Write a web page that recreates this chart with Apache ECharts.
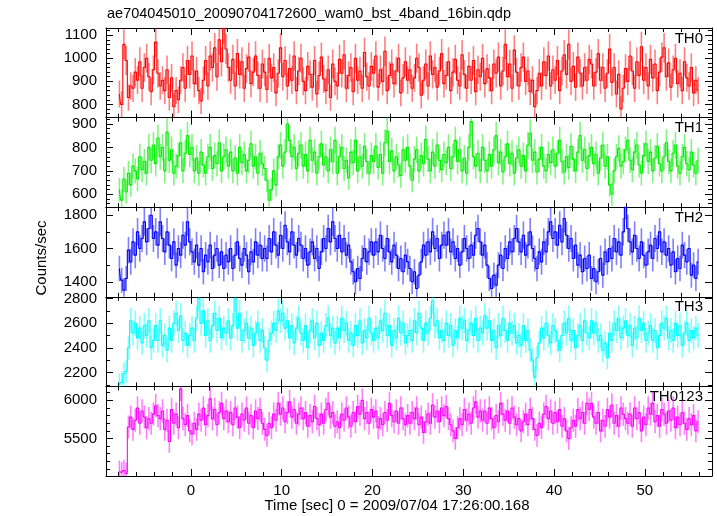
<!DOCTYPE html>
<html>
<head>
<meta charset="utf-8">
<script src="https://cdn.jsdelivr.net/npm/echarts@6/dist/echarts.min.js"></script>
<style>
html,body{margin:0;padding:0;background:#fff;}
#chart{width:717px;height:516px;}
</style>
</head>
<body>
<div id="chart"></div>
<script>
// ---- data (0.25 s bins, first bin centred at -7.875 s) ----
const binStart = -7.875;
const binWidth = 0.25;
const panelNames = ["TH0", "TH1", "TH2", "TH3", "TH0123"];
const xTickLabels = [0, 10, 20, 30, 40, 50];

const th0 = [
  845, 800, 1060, 990, 830, 880, 870, 940, 905, 985, 870, 960, 1000, 920, 855, 950,
  1070, 935, 880, 905, 860, 950, 830, 915, 790, 860, 820, 905, 960, 870, 990, 930,
  1010, 890, 945, 860, 815, 905, 990, 880, 1010, 960, 1045, 920, 1080, 985, 1130, 1040,
  960, 905, 995, 880, 1020, 930, 985, 870, 955, 1005, 890, 940, 1010, 925, 870, 975,
  940, 865, 1000, 915, 960, 850, 935, 1045, 920, 990, 880, 955, 905, 1010, 860, 945,
  1000, 900, 860, 965, 930, 875, 990, 845, 925, 1005, 910, 860, 950, 830, 975, 900,
  880, 995, 935, 1015, 870, 925, 960, 855, 1000, 905, 945, 870, 1025, 920, 880, 965,
  935, 1010, 875, 950, 900, 1030, 860, 925, 975, 890, 945, 1000, 850, 915, 985, 905,
  950, 870, 915, 1000, 960, 840, 905, 975, 880, 1010, 930, 960, 875, 945, 1020, 890,
  925, 985, 860, 940, 995, 905, 880, 1015, 930, 870, 965, 905, 990, 855, 950, 920,
  1000, 890, 955, 915, 860, 975, 935, 1005, 880, 945, 1060, 920, 975, 870, 1035, 940,
  880, 960, 1005, 900, 945, 855, 905, 790, 860, 935, 880, 985, 925, 1010, 880, 950,
  905, 990, 860, 945, 1015, 930, 1060, 900, 965, 875, 1005, 935, 880, 960, 905, 995,
  975, 880, 940, 1020, 905, 960, 870, 935, 1040, 895, 960, 845, 930, 780, 870, 955,
  900, 1010, 945, 870, 985, 925, 1050, 905, 960, 880, 995, 915, 975, 860, 940, 1005,
  1045, 920, 980, 875, 950, 1000, 890, 935, 860, 985, 915, 880, 960, 850, 905, 860
];
const th1 = [
  620, 575, 665, 610, 690, 640, 720, 700, 665, 760, 705, 740, 690, 800, 745, 810,
  730, 840, 760, 800, 700, 865, 745, 790, 690, 720, 765, 820, 700, 775, 850, 770,
  800, 700, 755, 690, 780, 725, 690, 760, 800, 710, 765, 730, 820, 700, 760, 790,
  720, 780, 700, 755, 690, 800, 735, 770, 700, 745, 815, 720, 760, 690, 775, 730,
  710, 660, 575, 620, 700, 640, 760, 810, 720, 780, 900, 830, 760, 800, 710, 775,
  810, 720, 770, 700, 830, 745, 780, 690, 760, 815, 725, 760, 700, 790, 740, 830,
  690, 760, 800, 710, 745, 670, 780, 735, 830, 700, 760, 720, 805, 740, 690, 765,
  740, 805, 715, 770, 690, 820, 870, 740, 785, 700, 760, 725, 680, 790, 745, 800,
  720, 660, 750, 790, 700, 765, 730, 835, 750, 700, 780, 720, 810, 745, 705, 770,
  735, 800, 710, 760, 830, 740, 790, 700, 755, 690, 800, 910, 760, 720, 775, 700,
  800, 745, 700, 770, 720, 790, 850, 735, 780, 695, 760, 815, 730, 775, 690, 755,
  790, 720, 765, 700, 810, 860, 745, 780, 695, 750, 800, 720, 700, 770, 735, 790,
  720, 775, 830, 740, 695, 760, 715, 805, 750, 700, 780, 850, 745, 790, 710, 765,
  800, 730, 770, 690, 755, 810, 720, 760, 640, 600, 700, 760, 795, 720, 740, 790,
  830, 745, 705, 780, 810, 725, 690, 765, 815, 740, 780, 700, 755, 805, 730, 700,
  760, 820, 740, 700, 775, 810, 720, 690, 760, 800, 730, 705, 780, 725, 690, 745
];
const th2 = [
  1480, 1410, 1350, 1420, 1590, 1520, 1640, 1560, 1700, 1600, 1660, 1760, 1640, 1720, 1800, 1660,
  1700, 1620, 1760, 1660, 1580, 1700, 1620, 1540, 1640, 1500, 1600, 1560, 1680, 1620, 1760, 1640,
  1580, 1520, 1620, 1500, 1600, 1460, 1560, 1520, 1620, 1480, 1560, 1600, 1500, 1580, 1480, 1560,
  1520, 1600, 1480, 1560, 1640, 1540, 1500, 1600, 1560, 1460, 1580, 1520, 1640, 1560, 1620, 1540,
  1600, 1540, 1660, 1580, 1700, 1620, 1560, 1680, 1600, 1740, 1640, 1580, 1700, 1620, 1560, 1660,
  1620, 1540, 1600, 1500, 1580, 1640, 1540, 1600, 1480, 1580, 1660, 1600, 1720, 1640, 1760, 1660,
  1600, 1680, 1580, 1660, 1560, 1620, 1520, 1460, 1400, 1480, 1420, 1540, 1600, 1520, 1580, 1640,
  1560, 1640, 1580, 1680, 1600, 1540, 1660, 1580, 1520, 1620, 1560, 1480, 1540, 1460, 1560, 1520,
  1480, 1400, 1460, 1360, 1440, 1520, 1620, 1560, 1640, 1580, 1700, 1600, 1660, 1540, 1620, 1680,
  1620, 1700, 1580, 1640, 1540, 1600, 1500, 1580, 1660, 1600, 1540, 1620, 1560, 1680, 1720, 1640,
  1560, 1620, 1500, 1420, 1360, 1440, 1380, 1500, 1560, 1480, 1600, 1540, 1640, 1580, 1660, 1720,
  1640, 1580, 1680, 1560, 1620, 1700, 1600, 1540, 1480, 1580, 1520, 1640, 1580, 1700, 1760, 1660,
  1700, 1620, 1740, 1640, 1780, 1680, 1600, 1660, 1540, 1620, 1500, 1560, 1460, 1540, 1480, 1560,
  1420, 1480, 1400, 1460, 1540, 1440, 1580, 1520, 1600, 1540, 1660, 1580, 1640, 1560, 1700, 1860,
  1720, 1640, 1580, 1680, 1600, 1540, 1640, 1560, 1500, 1580, 1620, 1540, 1660, 1600, 1700, 1580,
  1640, 1560, 1600, 1500, 1580, 1460, 1540, 1480, 1620, 1560, 1520, 1600, 1440, 1500, 1420, 1520
];
const th3 = [
  2100, 2120, 2190, 2210, 2400, 2620, 2520, 2600, 2480, 2560, 2440, 2580, 2500, 2620, 2400, 2460,
  2580, 2460, 2620, 2420, 2500, 2380, 2560, 2460, 2600, 2680, 2540, 2660, 2460, 2520, 2420, 2500,
  2560, 2460, 2640, 2800, 2600, 2700, 2500, 2620, 2460, 2580, 2680, 2540, 2640, 2480, 2560, 2520,
  2620, 2480, 2580, 2800, 2560, 2680, 2460, 2540, 2600, 2480, 2560, 2420, 2520, 2600, 2460, 2540,
  2400, 2300, 2460, 2520, 2600, 2540, 2700, 2620, 2680, 2560, 2620, 2480, 2580, 2440, 2560, 2640,
  2520, 2460, 2580, 2400, 2540, 2620, 2480, 2600, 2420, 2520, 2460, 2580, 2640, 2500, 2560, 2440,
  2560, 2480, 2640, 2540, 2600, 2460, 2520, 2420, 2580, 2500, 2620, 2440, 2540, 2480, 2640, 2520,
  2460, 2560, 2480, 2620, 2540, 2680, 2500, 2580, 2420, 2540, 2480, 2640, 2520, 2600, 2440, 2500,
  2540, 2460, 2620, 2520, 2680, 2560, 2460, 2600, 2520, 2640, 2780, 2580, 2620, 2480, 2540, 2460,
  2600, 2500, 2580, 2420, 2540, 2480, 2640, 2560, 2620, 2460, 2540, 2600, 2500, 2640, 2460, 2560,
  2520, 2660, 2560, 2620, 2460, 2540, 2400, 2580, 2500, 2640, 2540, 2460, 2600, 2520, 2580, 2440,
  2500, 2420, 2580, 2460, 2540, 2380, 2300, 2160, 2320, 2440, 2560, 2480, 2600, 2500, 2440, 2580,
  2540, 2460, 2380, 2500, 2600, 2520, 2640, 2460, 2540, 2400, 2500, 2580, 2460, 2620, 2520, 2480,
  2620, 2520, 2600, 2460, 2500, 2380, 2440, 2320, 2520, 2460, 2600, 2540, 2640, 2480, 2560, 2620,
  2500, 2580, 2420, 2560, 2480, 2640, 2540, 2600, 2460, 2520, 2580, 2460, 2540, 2400, 2500, 2600,
  2560, 2640, 2480, 2540, 2460, 2600, 2500, 2580, 2420, 2520, 2600, 2460, 2540, 2480, 2560, 2500
];
const th0123 = [
  5070, 5050, 5080, 5040, 5650, 5780, 5620, 5740, 5900, 5700, 5860, 5780, 5640, 5760, 5700, 5820,
  5930, 5800, 5760, 5860, 5620, 5740, 5460, 5880, 5700, 5820, 5640, 6150, 5760, 5680, 5800, 5600,
  5560, 5700, 5620, 5820, 5740, 5900, 5680, 5800, 6020, 5760, 5880, 5680, 5840, 5960, 5760, 5860,
  5720, 5840, 5680, 5900, 5780, 5640, 5820, 5740, 5900, 5700, 5800, 5640, 5860, 5760, 5880, 5700,
  5620, 5540, 5700, 5640, 5820, 5740, 5960, 5820, 5900, 5720, 5840, 5980, 5780, 5880, 5700, 5820,
  5900, 5760, 5840, 5660, 5800, 5720, 5920, 5760, 5680, 5820, 5700, 5880, 5960, 5780, 5840, 5660,
  5720, 5640, 5820, 5740, 5900, 5780, 5660, 5840, 5720, 5920, 5820, 6000, 5760, 5840, 5700, 5880,
  5780, 5860, 5640, 5760, 5680, 5840, 5740, 5960, 5800, 5720, 5860, 5700, 5900, 5760, 5680, 5800,
  5700, 5840, 5760, 5900, 5680, 5780, 5580, 5720, 5820, 5700, 5940, 5780, 5860, 5720, 5900, 5800,
  5920, 5760, 5680, 5600, 5500, 5640, 5760, 5680, 5880, 5740, 5820, 5700, 5900, 5980, 5780, 5860,
  5740, 5860, 5700, 5900, 5760, 5640, 5800, 5720, 5960, 5820, 5740, 5860, 5700, 5900, 5780, 5680,
  5760, 5600, 5720, 5820, 5680, 5880, 5760, 5620, 5540, 5700, 5640, 5820, 5920, 5760, 5860, 5700,
  5840, 5720, 5880, 5660, 5760, 5600, 5500, 5640, 5740, 5660, 5880, 5760, 5840, 5700, 5960, 5880,
  5960, 5780, 5700, 5840, 5600, 5740, 5660, 5880, 5780, 5940, 5700, 5800, 5660, 5900, 5820, 5760,
  5700, 5820, 5660, 5900, 5760, 5840, 5600, 5780, 5680, 5900, 5820, 5960, 5720, 5800, 5660, 5880,
  5820, 5700, 5860, 5740, 5900, 5640, 5780, 5680, 5840, 5700, 5620, 5760, 5680, 5800, 5600, 5720
];

// ---- layout / styling ----
const seriesValues = [th0, th1, th2, th3, th0123];
const colors = ["#ff0000", "#00ee00", "#0000ff", "#00ffff", "#ff00ff"];
const yRanges = [[743, 1131], [545, 927], [1310, 1848], [2087, 2814], [5008, 6183]];
const yMajor = [100, 100, 200, 200, 500];
const yMinor = [20, 20, 100, 100, 100];
const XMIN = -9.35, XMAX = 57.4;
const gridLeft = 106, gridRight = 5, plotTop = 28, plotBottom = 476;
const panelH = (plotBottom - plotTop) / 5;
const FONT = "Liberation Sans, Arial, Helvetica, sans-serif";

const grids = [], xAxes = [], yAxes = [], series = [], graphics = [];

seriesValues.forEach((vals, p) => {
  const top = plotTop + p * panelH;
  grids.push({ left: gridLeft, right: gridRight, top: top, height: panelH, containLabel: false });

  const base = {
    gridIndex: p, type: "value", min: XMIN, max: XMAX, splitLine: { show: false }
  };
  const xMajorCommon = Object.assign({}, base, {
    minInterval: 10, maxInterval: 10,
    axisLine: { show: true, onZero: false, lineStyle: { color: "#000", width: 1 } },
    axisTick: { show: true, inside: true, length: 7, lineStyle: { color: "#000" } }
  });
  xAxes.push(Object.assign({}, xMajorCommon, {
    position: "bottom",
    axisLabel: {
      show: p === 4, showMinLabel: false, showMaxLabel: false, margin: 7,
      color: "#000", fontSize: 15, fontFamily: FONT,
      formatter: v => (xTickLabels.indexOf(Math.round(v)) >= 0 && Math.abs(v - Math.round(v)) < 1e-6 ? String(Math.round(v)) : "")
    }
  }));
  xAxes.push(Object.assign({}, xMajorCommon, { position: "top", axisLabel: { show: false } }));
  ["bottom", "top"].forEach(pos => {
    xAxes.push(Object.assign({}, base, {
      position: pos, minInterval: 2, maxInterval: 2,
      axisLine: { show: false, onZero: false }, axisLabel: { show: false },
      axisTick: { show: true, inside: true, length: 4, lineStyle: { color: "#000" } }
    }));
  });

  const yb = {
    gridIndex: p, type: "value", min: yRanges[p][0], max: yRanges[p][1], splitLine: { show: false }
  };
  const yMajorCommon = Object.assign({}, yb, {
    minInterval: yMajor[p], maxInterval: yMajor[p],
    axisLine: { show: true, onZero: false, lineStyle: { color: "#000", width: 1 } },
    axisTick: { show: true, inside: true, length: 7, lineStyle: { color: "#000" } }
  });
  yAxes.push(Object.assign({}, yMajorCommon, {
    position: "left",
    axisLabel: {
      show: true, showMinLabel: false, showMaxLabel: false, margin: 9,
      color: "#000", fontSize: 15, fontFamily: FONT,
      formatter: v => (v % yMajor[p] === 0 ? String(v) : "")
    }
  }));
  yAxes.push(Object.assign({}, yMajorCommon, { position: "right", axisLabel: { show: false } }));
  ["left", "right"].forEach(pos => {
    yAxes.push(Object.assign({}, yb, {
      position: pos, minInterval: yMinor[p], maxInterval: yMinor[p],
      axisLine: { show: false, onZero: false }, axisLabel: { show: false },
      axisTick: { show: true, inside: true, length: 4, lineStyle: { color: "#000" } }
    }));
  });

  // Poisson 1-sigma error of a rate measured in one bin
  const pts = vals.map((v, i) => [binStart + i * binWidth, v, Math.sqrt(v * binWidth) / binWidth]);
  const col = colors[p];
  series.push({
    type: "custom", xAxisIndex: p * 4, yAxisIndex: p * 4, clip: true, silent: true,
    data: pts,
    renderItem: (params, api) => {
      const t = api.value(0), v = api.value(1), e = api.value(2);
      const a = api.coord([t, v + e]), b = api.coord([t, v - e]);
      return {
        type: "line",
        shape: { x1: a[0], y1: a[1], x2: b[0], y2: b[1] },
        style: { stroke: col, lineWidth: 1.6, opacity: 0.5 }
      };
    },
    z: 2
  });
  series.push({
    type: "line", xAxisIndex: p * 4, yAxisIndex: p * 4, step: "middle",
    data: pts.map(d => [d[0], d[1]]), showSymbol: false, symbol: "none", silent: true,
    lineStyle: { color: col, width: 1.1 }, clip: true, z: 3, animation: false
  });

  graphics.push({
    type: "text", right: 717 - 703, top: top + 3,
    style: { text: panelNames[p], fill: "#000", font: "15px " + FONT, textAlign: "right" }
  });
});

graphics.push({
  type: "text", left: gridLeft + 1, top: 6,
  style: { text: "ae704045010_20090704172600_wam0_bst_4band_16bin.qdp", fill: "#000", font: "14.5px " + FONT }
});
graphics.push({
  type: "text", x: 397, y: 506,
  style: { text: "Time [sec] 0 = 2009/07/04 17:26:00.168", fill: "#000", font: "15px " + FONT,
           textAlign: "center", textVerticalAlign: "middle" }
});
graphics.push({
  type: "text", x: 42, y: 258, rotation: Math.PI / 2,
  style: { text: "Counts/sec", fill: "#000", font: "15px " + FONT,
           textAlign: "center", textVerticalAlign: "middle" }
});

const chart = echarts.init(document.getElementById("chart"), null, { renderer: "canvas" });
chart.setOption({
  backgroundColor: "#fff",
  animation: false,
  grid: grids,
  xAxis: xAxes,
  yAxis: yAxes,
  series: series,
  graphic: graphics
});
</script>
</body>
</html>
